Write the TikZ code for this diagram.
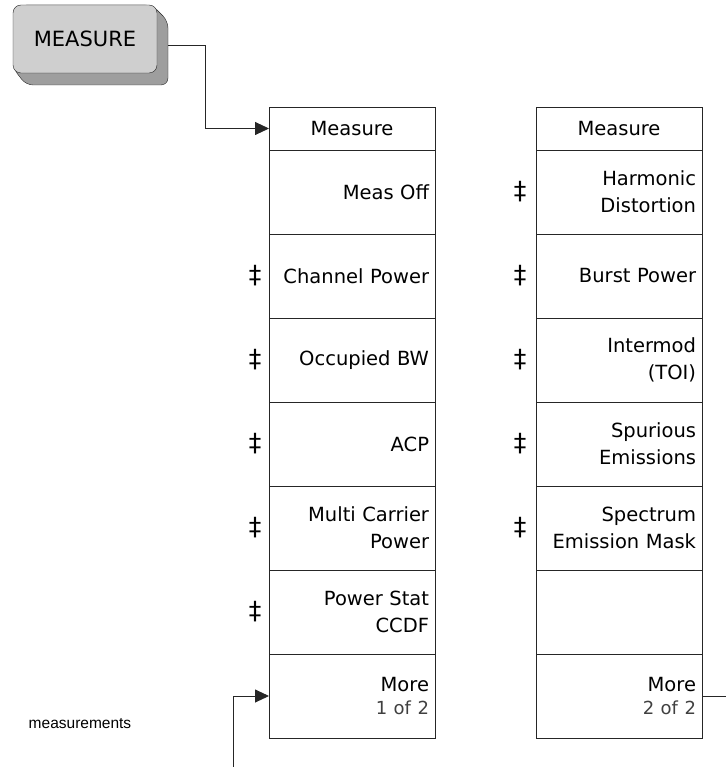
\documentclass[tikz,border=0pt]{standalone}
\usepackage{fontspec}
\setmainfont{DejaVu Sans}
\newfontfamily\notefont{Liberation Sans}
\usetikzlibrary{arrows.meta,positioning}

\begin{document}
\begin{tikzpicture}[x=1pt,y=-1pt,
  front key/.style={draw=black!85, fill=black!19, rounded corners=8pt, minimum width=144pt, minimum height=68pt, font=\fontsize{21}{24}\selectfont},
  menu title/.style={draw=black!85, line width=0.9pt, outer sep=0pt, minimum width=166pt, minimum height=43pt, font=\fontsize{19.5}{27}\selectfont},
  menu key/.style={draw=black!85, line width=0.9pt, outer sep=0pt, text width=154pt, inner xsep=6pt, inner ysep=0pt, minimum height=84pt, align=right, font=\fontsize{19.5}{27}\selectfont},
  flag/.style={font=\fontsize{25}{26}\selectfont},
  link/.style={draw=black!85, line width=0.9pt},
  tip/.style={-{Triangle[length=14pt,width=13pt]}}]
\useasboundingbox (0,0) rectangle (726,767);

% Front panel key
\filldraw[draw=black!85, fill=black!38, rounded corners=7pt] (20,5) -- (152,5) -- (168,21) -- (168,85) -- (26,85) -- (13,68) -- cycle;
\node[front key] (key) at (85,39) {MEASURE};

% Menu page 1
\node[menu title] (mA0) at (352,128.5) {Measure};
\node[menu key, below=0pt of mA0] (mA1) {Meas Off};
\node[menu key, below=0pt of mA1] (mA2) {Channel Power};
\node[menu key, below=0pt of mA2] (mA3) {Occupied BW};
\node[menu key, below=0pt of mA3] (mA4) {ACP};
\node[menu key, below=0pt of mA4] (mA5) {Multi Carrier\\Power};
\node[menu key, below=0pt of mA5] (mA6) {Power Stat\\CCDF};
\node[menu key, below=0pt of mA6] (mA7) {More\\[-4pt]{\fontsize{18}{20}\selectfont\color{black!75}1 of 2}};

% Menu page 2
\node[menu title] (mB0) at (619,128.5) {Measure};
\node[menu key, below=0pt of mB0] (mB1) {Harmonic\\Distortion};
\node[menu key, below=0pt of mB1] (mB2) {Burst Power};
\node[menu key, below=0pt of mB2] (mB3) {Intermod\\(TOI)};
\node[menu key, below=0pt of mB3] (mB4) {Spurious\\Emissions};
\node[menu key, below=0pt of mB4] (mB5) {Spectrum\\Emission Mask};
\node[menu key, below=0pt of mB5] (mB6) {};
\node[menu key, below=0pt of mB6] (mB7) {More\\[-4pt]{\fontsize{18}{20}\selectfont\color{black!75}2 of 2}};

% Daggers
\node[flag, left=4pt of mA2] (dA2) {‡};
\node[flag, left=4pt of mA3] (dA3) {‡};
\node[flag, left=4pt of mA4] (dA4) {‡};
\node[flag, left=4pt of mA5] (dA5) {‡};
\node[flag, left=4pt of mA6] (dA6) {‡};
\node[flag, left=6pt of mB1] (dB1) {‡};
\node[flag, left=6pt of mB2] (dB2) {‡};
\node[flag, left=6pt of mB3] (dB3) {‡};
\node[flag, left=6pt of mB4] (dB4) {‡};
\node[flag, left=6pt of mB5] (dB5) {‡};

% Connectors
\coordinate (keyout) at (168,45);
\coordinate (loopin) at (233,767);
\coordinate (loopout) at (726,696);
\draw[link, tip] (keyout) -- ++(37,0) |- (mA0.west);
\draw[link, tip] (loopin) |- (mA7.west);
\draw[link] (mB7.east) -- (loopout);

% Note
\node[font=\notefont\fontsize{15.5}{18}\selectfont] (note) at (80,724) {measurements};
\end{tikzpicture}
\end{document}
